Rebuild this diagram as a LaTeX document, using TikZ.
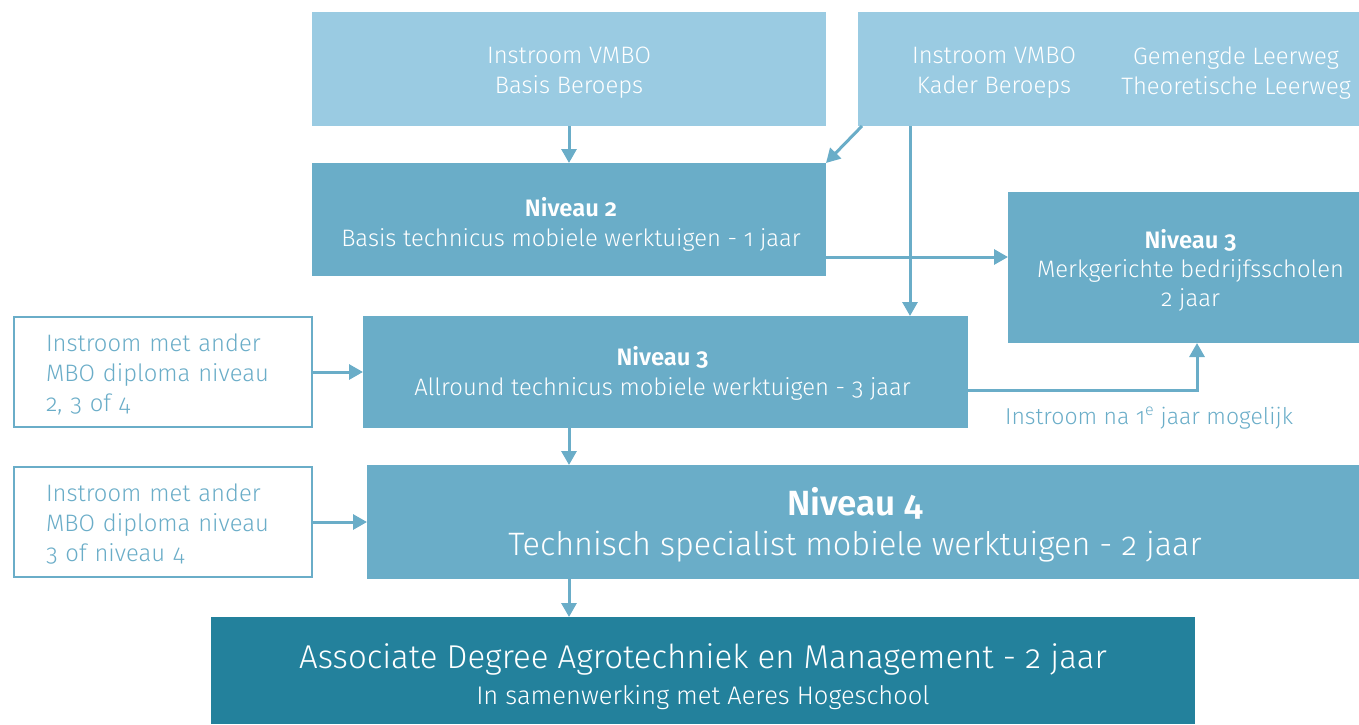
\documentclass[tikz,border=0pt]{standalone}
\usepackage{fontspec}
\setmainfont{Fira Sans}[UprightFont={* Light}, BoldFont={* SemiBold}, Numbers=OldStyle]
\usetikzlibrary{arrows.meta,calc}
\definecolor{cLight}{HTML}{9ACBE2}
\definecolor{cMid}{HTML}{6AADC8}
\definecolor{cDark}{HTML}{23819C}
\begin{document}
\begin{tikzpicture}[x=1pt,y=-1pt,
  box/.style={inner sep=0pt, outer sep=0pt, anchor=north west},
  lightbox/.style={box, fill=cLight},
  midbox/.style={box, fill=cMid},
  darkbox/.style={box, fill=cDark},
  wtxt/.style={text=white, align=center, inner sep=0pt, font=\fontsize{23.8}{30}\selectfont},
  sidebox/.style={draw=cMid, line width=2.5pt, fill=white, inner sep=0pt, outer sep=0pt, anchor=north west, minimum width=298pt, minimum height=110pt},
  stxt/.style={text=cMid, align=left, inner sep=0pt, text width=234pt, font=\fontsize{23.8}{30}\selectfont},
  arr/.style={draw=cMid, line width=3pt, -{Triangle[length=14pt,width=15pt]}}
]
\useasboundingbox (0,0) rectangle (1359,724);

% top boxes
\node[lightbox, minimum width=514pt, minimum height=114pt] (A) at (312,12) {};
\node[wtxt] (At) at ($(A.center)+(0,4)$) {Instroom VMBO\\Basis Beroeps};
\node[lightbox, minimum width=501pt, minimum height=114pt] (B) at (858,12) {};
\node[wtxt] (B1) at (994,73) {Instroom VMBO\\Kader Beroeps};
\node[wtxt] (B2) at (1236,73) {Gemengde Leerweg\\Theoretische Leerweg};

% niveau 2
\node[midbox, minimum width=514pt, minimum height=113pt] (N2) at (312,163) {};
\node[wtxt] (N2t) at ($(N2.center)+(2,5)$) {\textbf{Niveau 2}\\Basis technicus mobiele werktuigen - 1 jaar};

% merk
\node[midbox, minimum width=351pt, minimum height=151pt] (M) at (1008,192) {};
\node[wtxt, font=\fontsize{23.8}{29}\selectfont] (Mt) at ($(M.center)+(7,3)$) {\textbf{Niveau 3}\\Merkgerichte bedrijfsscholen\\2 jaar};

% niveau 3 allround
\node[midbox, minimum width=605pt, minimum height=112pt] (N3) at (363,316) {};
\node[wtxt] (N3t) at ($(N3.center)+(-3,1)$) {\textbf{Niveau 3}\\Allround technicus mobiele werktuigen - 3 jaar};

% side boxes
\node[sidebox] (L1) at (14,317) {};
\node[stxt] (L1t) at ($(L1.center)+(0,2)$) {Instroom met ander\\MBO diploma niveau\\2, 3 of 4};
\node[sidebox] (L2) at (14,467) {};
\node[stxt] (L2t) at ($(L2.center)+(0,2)$) {Instroom met ander\\MBO diploma niveau\\3 of niveau 4};

% niveau 4
\node[midbox, minimum width=992pt, minimum height=114pt] (N4) at (367,465) {};
\node[wtxt] (N4t) at ($(N4.center)+(-8,3)$)
  {{\fontsize{35}{40}\selectfont\textbf{Niveau 4}}\\[10pt]{\fontsize{32.4}{40}\selectfont Technisch specialist mobiele werktuigen - 2 jaar}};

% associate
\node[darkbox, minimum width=984pt, minimum height=107pt] (AD) at (211,617) {};
\node[wtxt] (ADt) at ($(AD.center)+(0,6)$)
  {{\fontsize{33}{36}\selectfont Associate Degree Agrotechniek en Management - 2 jaar}\\[6pt]{\fontsize{25.5}{30}\selectfont In samenwerking met Aeres Hogeschool}};

% label
\node[text=cMid, inner sep=0pt, font=\fontsize{23}{28}\selectfont] (lab) at (1149,418) {Instroom na 1\textsuperscript{e} jaar mogelijk};

% helper coordinates
\coordinate (bv) at ($(B.south west)+(52,0)$);
\coordinate (bvEnd) at (bv |- N3.north);
\coordinate (n2r) at ($(N2.south east)+(0,-19)$);
\coordinate (mL) at (n2r -| M.west);
\coordinate (n3r) at ($(N3.east)+(0,18)$);
\coordinate (mB) at ($(M.south)+(13.5,0)$);

% connectors
\draw[arr] (A.south) -- (N2.north -| A.south);
\draw[arr] ($(B.south west)+(4,0)$) -- (N2.north east);
\draw[arr] (bv) -- (bvEnd);
\draw[arr] (n2r) -- (mL);
\draw[arr] (n3r) -| (mB);
\draw[arr] (L1.east) -- (L1.east -| N3.west);
\draw[arr] (L2.east) -- (L2.east -| N4.west);
\draw[arr] (N3.south -| A.south) -- (N4.north -| A.south);
\draw[arr] (N4.south -| A.south) -- (AD.north -| A.south);
\end{tikzpicture}
\end{document}
